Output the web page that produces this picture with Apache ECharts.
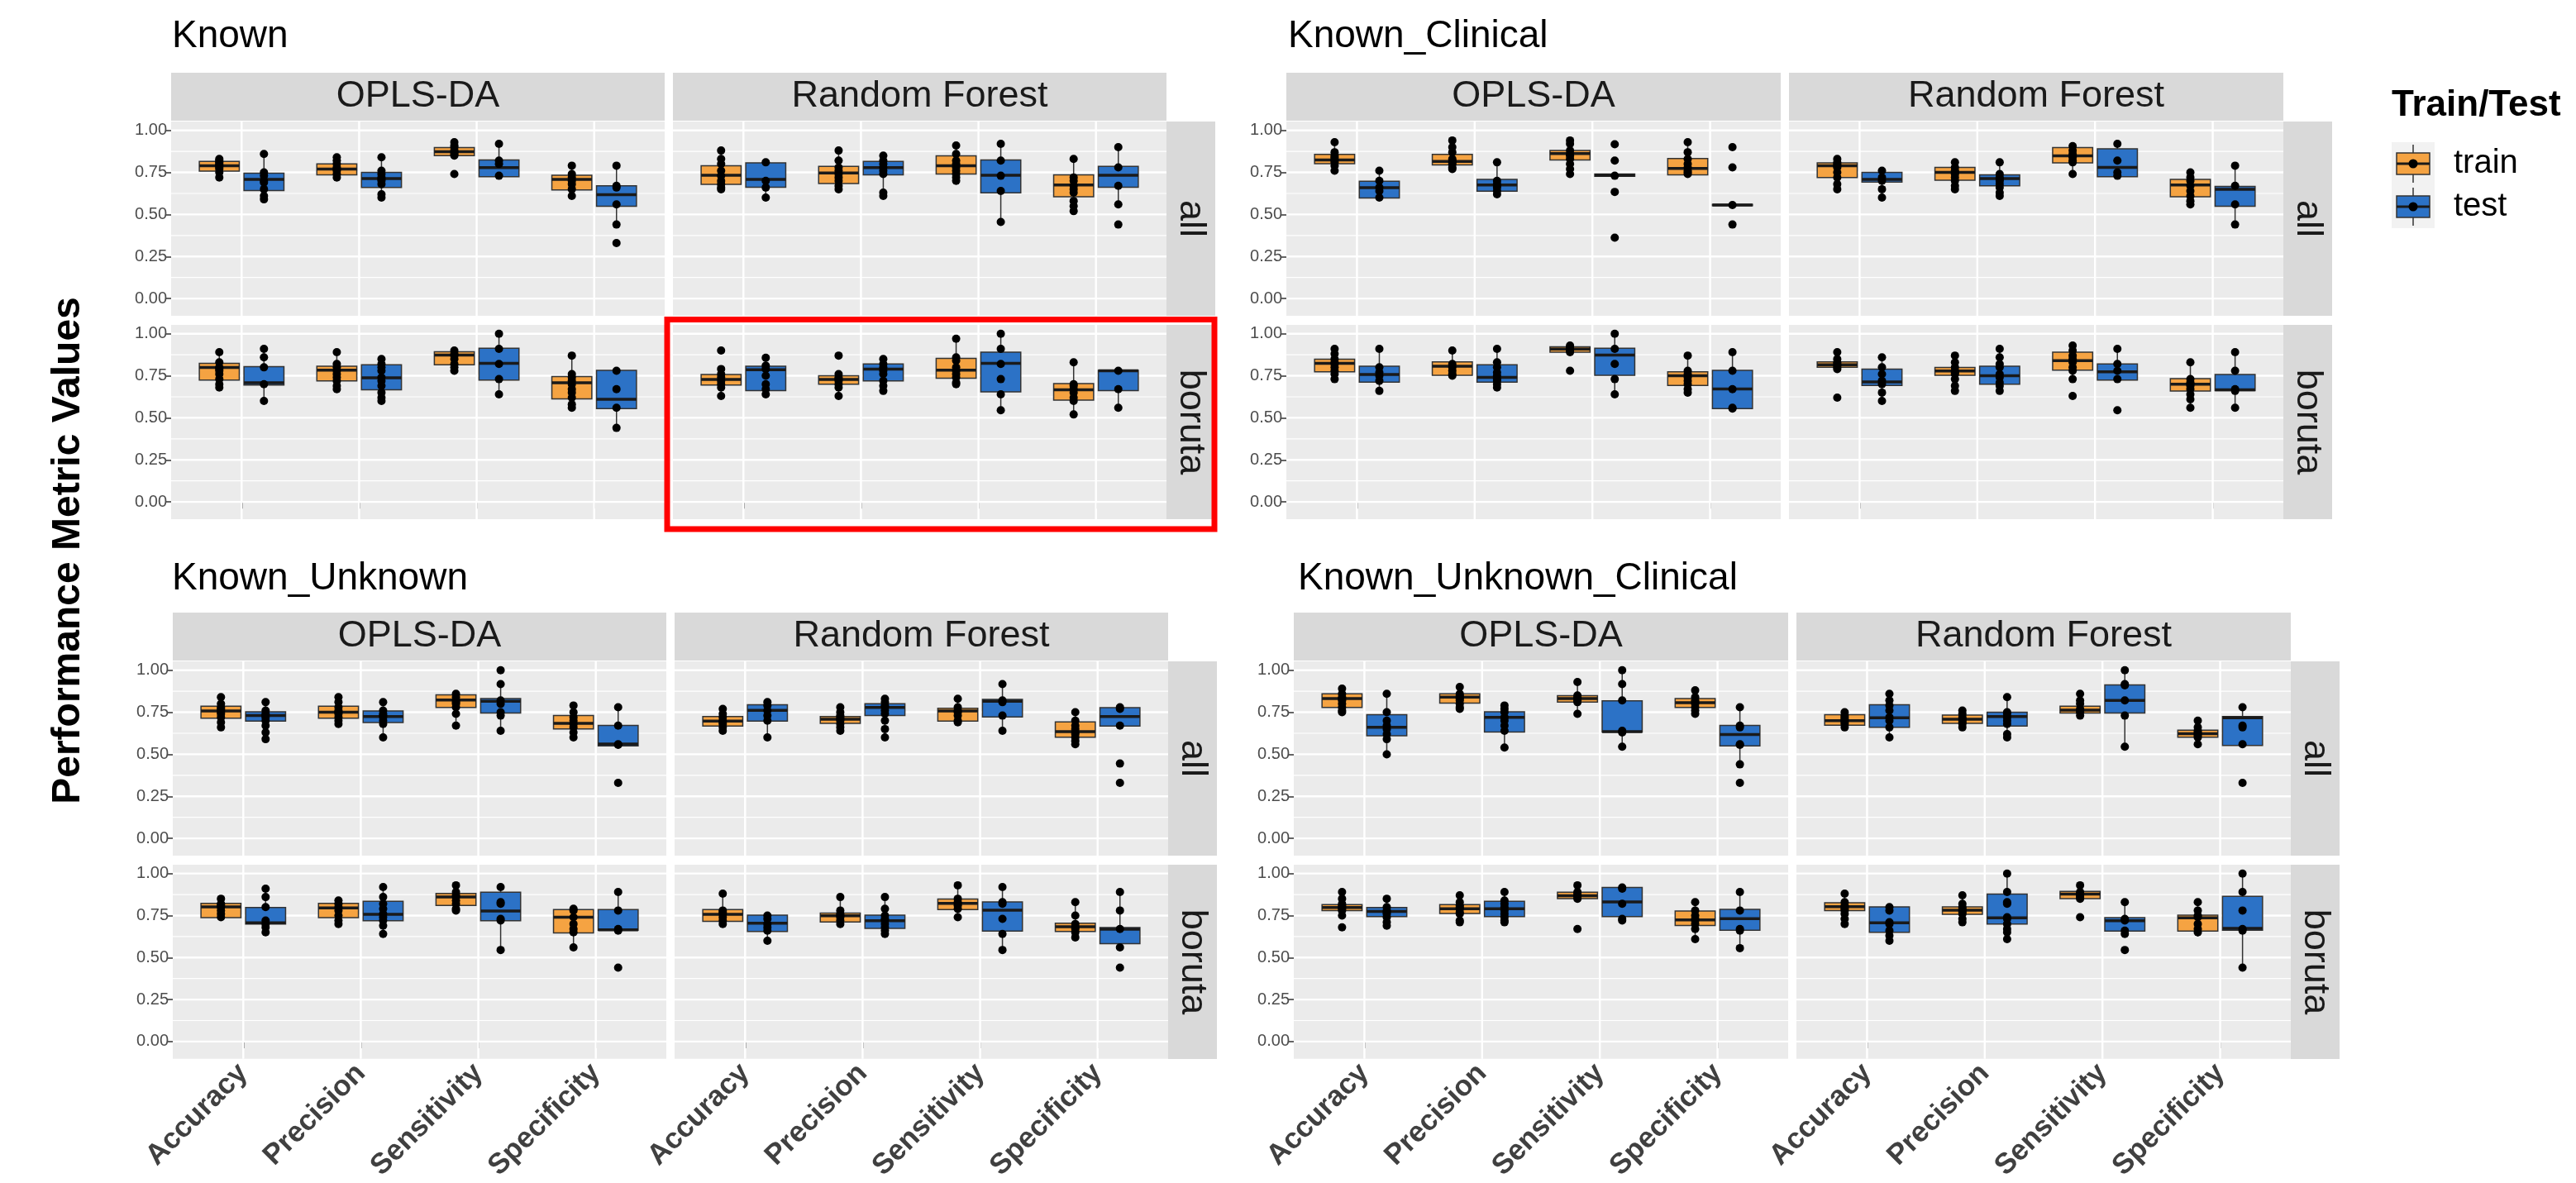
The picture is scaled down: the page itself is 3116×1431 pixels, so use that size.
<!DOCTYPE html>
<html>
<head>
<meta charset="utf-8">
<script src="https://cdn.jsdelivr.net/npm/echarts@6.0.0/dist/echarts.min.js"></script>
<style>
  html, body { margin: 0; padding: 0; background: #fff; }
  #chart { width: 3116px; height: 1431px; }
</style>
</head>
<body>
<div id="chart"></div>
<script>
const metrics = ['Accuracy', 'Precision', 'Sensitivity', 'Specificity']
const groups = ['train', 'test']
const models = ['OPLS-DA', 'Random Forest']
const featureSets = ['all', 'boruta']
const panelNames = ['Known', 'Known_Clinical', 'Known_Unknown', 'Known_Unknown_Clinical']
const yTicks = [0, 0.25, 0.5, 0.75, 1]
const yMinor = [0.125, 0.375, 0.625, 0.875]

// box stats: [lowWhisker, q1, median, q3, highWhisker]
// order: Acc train, Acc test, Prec train, Prec test, Sens train, Sens test, Spec train, Spec test
const knownOplsAllBox = [
  [0.71, 0.758, 0.79, 0.815, 0.84], [0.593, 0.642, 0.708, 0.745, 0.865],
  [0.713, 0.736, 0.77, 0.80, 0.84], [0.593, 0.66, 0.713, 0.75, 0.848],
  [0.848, 0.85, 0.873, 0.898, 0.935], [0.725, 0.725, 0.779, 0.824, 0.92],
  [0.593, 0.646, 0.708, 0.733, 0.796], [0.444, 0.549, 0.618, 0.67, 0.79]
]
const knownOplsAllPts = [
  [0.72, 0.75, 0.77, 0.78, 0.79, 0.80, 0.81, 0.82, 0.83], [0.86, 0.75, 0.73, 0.70, 0.69, 0.65, 0.61, 0.59],
  [0.72, 0.74, 0.76, 0.77, 0.78, 0.80, 0.82, 0.84], [0.84, 0.76, 0.74, 0.72, 0.71, 0.70, 0.68, 0.62, 0.60],
  [0.93, 0.91, 0.90, 0.88, 0.87, 0.86, 0.85, 0.74], [0.92, 0.82, 0.80, 0.73],
  [0.79, 0.74, 0.72, 0.70, 0.68, 0.65, 0.61], [0.79, 0.67, 0.66, 0.56, 0.44, 0.33]
]
const knownRfAllBox = [
  [0.642, 0.679, 0.733, 0.79, 0.88], [0.60, 0.662, 0.708, 0.807, 0.81],
  [0.642, 0.684, 0.746, 0.786, 0.88], [0.61, 0.736, 0.779, 0.815, 0.848],
  [0.692, 0.741, 0.79, 0.848, 0.906], [0.453, 0.629, 0.733, 0.824, 0.922],
  [0.51, 0.605, 0.675, 0.736, 0.84], [0.556, 0.662, 0.733, 0.786, 0.898]
]
const knownRfAllPts = [
  [0.88, 0.83, 0.80, 0.76, 0.73, 0.70, 0.68, 0.66, 0.65], [0.81, 0.70, 0.66, 0.60],
  [0.88, 0.82, 0.78, 0.76, 0.74, 0.72, 0.70, 0.67, 0.65], [0.85, 0.82, 0.80, 0.78, 0.76, 0.74, 0.63, 0.61],
  [0.91, 0.86, 0.82, 0.80, 0.78, 0.76, 0.74, 0.72, 0.70], [0.92, 0.82, 0.73, 0.64, 0.455],
  [0.83, 0.72, 0.70, 0.67, 0.65, 0.63, 0.58, 0.55, 0.52], [0.90, 0.78, 0.67, 0.56, 0.44]
]
const knownOplsBorutaBox = [
  [0.667, 0.725, 0.799, 0.824, 0.898], [0.60, 0.695, 0.708, 0.804, 0.906],
  [0.667, 0.72, 0.783, 0.807, 0.898], [0.60, 0.667, 0.738, 0.815, 0.857],
  [0.774, 0.815, 0.873, 0.893, 0.90], [0.634, 0.725, 0.824, 0.914, 1.0],
  [0.56, 0.613, 0.708, 0.745, 0.873], [0.445, 0.555, 0.61, 0.782, 0.782]
]
const knownOplsBorutaPts = [
  [0.89, 0.83, 0.80, 0.79, 0.78, 0.76, 0.73, 0.70, 0.68], [0.91, 0.86, 0.80, 0.70, 0.60],
  [0.89, 0.82, 0.80, 0.78, 0.76, 0.74, 0.72, 0.69, 0.67], [0.85, 0.82, 0.80, 0.78, 0.74, 0.72, 0.69, 0.65, 0.62, 0.60],
  [0.90, 0.88, 0.87, 0.85, 0.82, 0.80, 0.78], [1.0, 0.91, 0.82, 0.73, 0.64],
  [0.87, 0.76, 0.74, 0.72, 0.70, 0.67, 0.65, 0.62, 0.58, 0.56], [0.78, 0.67, 0.56, 0.44]
]
const knownRfBorutaBox = [
  [0.626, 0.695, 0.728, 0.758, 0.79], [0.643, 0.662, 0.786, 0.807, 0.857],
  [0.634, 0.70, 0.728, 0.75, 0.76], [0.659, 0.72, 0.79, 0.82, 0.857],
  [0.692, 0.736, 0.783, 0.853, 0.97], [0.544, 0.654, 0.824, 0.89, 1.0],
  [0.519, 0.605, 0.667, 0.703, 0.83], [0.556, 0.662, 0.78, 0.782, 0.782]
]
const knownRfBorutaPts = [
  [0.90, 0.79, 0.76, 0.74, 0.72, 0.70, 0.68, 0.63], [0.857, 0.81, 0.79, 0.75, 0.70, 0.67, 0.64],
  [0.87, 0.76, 0.74, 0.73, 0.72, 0.70, 0.68, 0.63], [0.85, 0.82, 0.80, 0.78, 0.76, 0.72, 0.69, 0.66],
  [0.97, 0.86, 0.84, 0.80, 0.78, 0.76, 0.74, 0.71, 0.70], [1.0, 0.91, 0.82, 0.73, 0.64, 0.545],
  [0.83, 0.70, 0.69, 0.67, 0.65, 0.62, 0.60, 0.52], [0.78, 0.67, 0.56]
]
const clinOplsAllBox = [
  [0.75, 0.802, 0.824, 0.857, 0.93], [0.593, 0.598, 0.659, 0.697, 0.763],
  [0.766, 0.794, 0.815, 0.857, 0.94], [0.60, 0.639, 0.675, 0.708, 0.807],
  [0.736, 0.824, 0.862, 0.881, 0.94], [0.727, 0.727, 0.733, 0.74, 0.74],
  [0.736, 0.736, 0.774, 0.832, 0.93], [0.552, 0.552, 0.556, 0.56, 0.56]
]
const clinOplsAllPts = [
  [0.93, 0.87, 0.85, 0.84, 0.83, 0.82, 0.81, 0.79, 0.76], [0.76, 0.70, 0.66, 0.64, 0.60],
  [0.94, 0.90, 0.87, 0.83, 0.82, 0.81, 0.80, 0.78, 0.77], [0.81, 0.70, 0.68, 0.67, 0.66, 0.64, 0.62],
  [0.94, 0.92, 0.88, 0.86, 0.85, 0.83, 0.80, 0.77, 0.74], [0.917, 0.82, 0.73, 0.634, 0.362],
  [0.93, 0.87, 0.83, 0.80, 0.78, 0.76, 0.75, 0.74], [0.90, 0.78, 0.556, 0.44]
]
const clinRfAllBox = [
  [0.65, 0.72, 0.79, 0.807, 0.84], [0.65, 0.692, 0.708, 0.75, 0.758],
  [0.65, 0.703, 0.75, 0.78, 0.815], [0.60, 0.67, 0.713, 0.736, 0.815],
  [0.733, 0.807, 0.848, 0.898, 0.906], [0.725, 0.725, 0.78, 0.89, 0.922],
  [0.56, 0.605, 0.675, 0.708, 0.75], [0.445, 0.549, 0.65, 0.667, 0.79]
]
const clinRfAllPts = [
  [0.83, 0.81, 0.80, 0.79, 0.78, 0.75, 0.72, 0.68, 0.65], [0.76, 0.72, 0.70, 0.65, 0.60],
  [0.81, 0.78, 0.76, 0.75, 0.74, 0.72, 0.70, 0.67, 0.65], [0.81, 0.74, 0.72, 0.71, 0.70, 0.68, 0.66, 0.63, 0.61],
  [0.906, 0.88, 0.86, 0.84, 0.82, 0.81, 0.74], [0.92, 0.82, 0.75, 0.73],
  [0.75, 0.72, 0.70, 0.67, 0.64, 0.61, 0.58, 0.56], [0.79, 0.67, 0.56, 0.44]
]
const clinOplsBorutaBox = [
  [0.725, 0.774, 0.824, 0.848, 0.914], [0.65, 0.712, 0.758, 0.807, 0.914],
  [0.753, 0.753, 0.807, 0.832, 0.906], [0.675, 0.712, 0.741, 0.815, 0.922],
  [0.89, 0.89, 0.909, 0.922, 0.94], [0.634, 0.753, 0.873, 0.914, 1.0],
  [0.642, 0.692, 0.75, 0.774, 0.89], [0.555, 0.555, 0.672, 0.782, 0.898]
]
const clinOplsBorutaPts = [
  [0.91, 0.88, 0.85, 0.83, 0.82, 0.80, 0.78, 0.76, 0.73], [0.91, 0.80, 0.77, 0.75, 0.72, 0.66],
  [0.90, 0.82, 0.80, 0.78, 0.76, 0.75], [0.91, 0.83, 0.80, 0.77, 0.75, 0.73, 0.72, 0.70, 0.68],
  [0.93, 0.92, 0.91, 0.90, 0.89, 0.78], [1.0, 0.91, 0.82, 0.73, 0.64],
  [0.87, 0.78, 0.76, 0.74, 0.72, 0.70, 0.67, 0.65], [0.89, 0.78, 0.67, 0.56, 0.555]
]
const clinRfBorutaBox = [
  [0.774, 0.80, 0.815, 0.832, 0.89], [0.60, 0.692, 0.713, 0.79, 0.865],
  [0.659, 0.753, 0.778, 0.799, 0.873], [0.65, 0.70, 0.75, 0.807, 0.914],
  [0.725, 0.783, 0.84, 0.89, 0.94], [0.725, 0.725, 0.774, 0.82, 0.914],
  [0.56, 0.659, 0.70, 0.733, 0.84], [0.56, 0.662, 0.667, 0.758, 0.898]
]
const clinRfBorutaPts = [
  [0.89, 0.85, 0.83, 0.82, 0.81, 0.80, 0.79, 0.62], [0.86, 0.80, 0.76, 0.72, 0.70, 0.65, 0.60],
  [0.87, 0.83, 0.80, 0.78, 0.77, 0.76, 0.73, 0.69, 0.66], [0.91, 0.86, 0.82, 0.80, 0.76, 0.74, 0.71, 0.69, 0.66],
  [0.93, 0.90, 0.87, 0.85, 0.83, 0.80, 0.78, 0.73, 0.63], [0.91, 0.82, 0.78, 0.73, 0.545],
  [0.83, 0.73, 0.71, 0.70, 0.69, 0.67, 0.64, 0.61, 0.56], [0.89, 0.78, 0.67, 0.66, 0.56]
]
const unkOplsAllBox = [
  [0.66, 0.714, 0.758, 0.786, 0.84], [0.594, 0.697, 0.73, 0.753, 0.807],
  [0.676, 0.714, 0.75, 0.786, 0.84], [0.594, 0.689, 0.725, 0.758, 0.815],
  [0.668, 0.779, 0.823, 0.853, 0.864], [0.635, 0.745, 0.815, 0.831, 0.917],
  [0.60, 0.651, 0.684, 0.73, 0.79], [0.55, 0.55, 0.561, 0.672, 0.78]
]
const unkOplsAllPts = [
  [0.84, 0.80, 0.78, 0.77, 0.76, 0.75, 0.74, 0.72, 0.69, 0.66], [0.81, 0.76, 0.74, 0.73, 0.72, 0.70, 0.67, 0.63, 0.59],
  [0.84, 0.81, 0.78, 0.76, 0.75, 0.74, 0.72, 0.70, 0.68], [0.81, 0.76, 0.74, 0.73, 0.72, 0.70, 0.68, 0.60],
  [0.86, 0.84, 0.82, 0.81, 0.80, 0.78, 0.74, 0.67], [1.0, 0.917, 0.82, 0.80, 0.75, 0.73, 0.64],
  [0.79, 0.75, 0.72, 0.70, 0.68, 0.66, 0.63, 0.60], [0.78, 0.67, 0.56, 0.556, 0.33]
]
const unkRfAllBox = [
  [0.627, 0.668, 0.697, 0.725, 0.77], [0.594, 0.697, 0.761, 0.795, 0.81],
  [0.635, 0.684, 0.709, 0.725, 0.78], [0.594, 0.73, 0.779, 0.80, 0.831],
  [0.68, 0.697, 0.758, 0.774, 0.831], [0.627, 0.722, 0.815, 0.826, 0.92],
  [0.556, 0.602, 0.635, 0.692, 0.758], [0.668, 0.668, 0.725, 0.777, 0.78]
]
const unkRfAllPts = [
  [0.77, 0.74, 0.72, 0.70, 0.69, 0.68, 0.66, 0.64], [0.81, 0.79, 0.76, 0.73, 0.70, 0.60],
  [0.78, 0.75, 0.73, 0.72, 0.71, 0.70, 0.68, 0.66, 0.64], [0.83, 0.81, 0.79, 0.78, 0.76, 0.74, 0.70, 0.65, 0.60],
  [0.83, 0.78, 0.76, 0.75, 0.73, 0.70, 0.69], [0.917, 0.82, 0.81, 0.73, 0.64],
  [0.75, 0.70, 0.67, 0.65, 0.63, 0.62, 0.60, 0.58, 0.56], [0.78, 0.77, 0.67, 0.445, 0.33]
]
const unkOplsBorutaBox = [
  [0.732, 0.737, 0.802, 0.823, 0.851], [0.641, 0.699, 0.707, 0.798, 0.914],
  [0.691, 0.737, 0.795, 0.823, 0.848], [0.633, 0.719, 0.757, 0.835, 0.93],
  [0.774, 0.81, 0.86, 0.881, 0.939], [0.542, 0.719, 0.777, 0.889, 0.93],
  [0.559, 0.646, 0.74, 0.785, 0.798], [0.663, 0.663, 0.665, 0.785, 0.894]
]
const unkOplsBorutaPts = [
  [0.85, 0.82, 0.81, 0.80, 0.78, 0.76, 0.74], [0.91, 0.86, 0.80, 0.72, 0.70, 0.68, 0.65],
  [0.84, 0.82, 0.80, 0.78, 0.75, 0.72, 0.70], [0.92, 0.86, 0.82, 0.79, 0.76, 0.74, 0.72, 0.69, 0.64],
  [0.93, 0.89, 0.87, 0.86, 0.84, 0.82, 0.79, 0.78], [0.92, 0.83, 0.82, 0.73, 0.72, 0.545],
  [0.79, 0.78, 0.74, 0.70, 0.67, 0.65, 0.56], [0.89, 0.78, 0.67, 0.66, 0.44]
]
const unkRfBorutaBox = [
  [0.691, 0.716, 0.757, 0.785, 0.884], [0.60, 0.655, 0.704, 0.752, 0.757],
  [0.699, 0.712, 0.749, 0.765, 0.864], [0.641, 0.674, 0.719, 0.752, 0.864],
  [0.74, 0.785, 0.823, 0.848, 0.939], [0.542, 0.658, 0.782, 0.831, 0.922],
  [0.608, 0.655, 0.683, 0.704, 0.831], [0.556, 0.583, 0.669, 0.678, 0.894]
]
const unkRfBorutaPts = [
  [0.88, 0.78, 0.77, 0.76, 0.74, 0.72, 0.70], [0.75, 0.73, 0.70, 0.68, 0.66, 0.60],
  [0.86, 0.78, 0.76, 0.75, 0.74, 0.72, 0.70], [0.86, 0.79, 0.75, 0.73, 0.72, 0.70, 0.68, 0.66, 0.64],
  [0.93, 0.85, 0.83, 0.82, 0.81, 0.79, 0.74], [0.92, 0.83, 0.82, 0.73, 0.64, 0.545],
  [0.83, 0.75, 0.70, 0.68, 0.67, 0.65, 0.62], [0.89, 0.78, 0.67, 0.56, 0.44]
]
const unkClinOplsAllBox = [
  [0.741, 0.779, 0.831, 0.859, 0.897], [0.496, 0.61, 0.66, 0.736, 0.864],
  [0.766, 0.804, 0.84, 0.859, 0.905], [0.537, 0.632, 0.72, 0.753, 0.799],
  [0.741, 0.81, 0.831, 0.848, 0.946], [0.537, 0.632, 0.635, 0.818, 1.0],
  [0.725, 0.779, 0.807, 0.831, 0.889], [0.44, 0.55, 0.618, 0.672, 0.78]
]
const unkClinOplsAllPts = [
  [0.89, 0.86, 0.84, 0.83, 0.82, 0.80, 0.78, 0.76, 0.75], [0.86, 0.75, 0.70, 0.67, 0.65, 0.62, 0.59, 0.50],
  [0.90, 0.86, 0.85, 0.84, 0.83, 0.82, 0.80, 0.78, 0.77], [0.79, 0.77, 0.75, 0.72, 0.70, 0.67, 0.64, 0.54],
  [0.93, 0.85, 0.84, 0.83, 0.82, 0.81, 0.74], [1.0, 0.917, 0.82, 0.64, 0.63, 0.545],
  [0.88, 0.84, 0.82, 0.81, 0.80, 0.78, 0.76, 0.74], [0.78, 0.67, 0.66, 0.56, 0.556, 0.44, 0.33]
]
const unkClinRfAllBox = [
  [0.651, 0.673, 0.70, 0.736, 0.758], [0.594, 0.66, 0.717, 0.795, 0.864],
  [0.66, 0.684, 0.709, 0.733, 0.766], [0.594, 0.668, 0.725, 0.75, 0.848],
  [0.73, 0.745, 0.763, 0.786, 0.864], [0.545, 0.745, 0.82, 0.913, 1.0],
  [0.561, 0.602, 0.622, 0.643, 0.712], [0.553, 0.553, 0.717, 0.725, 0.777]
]
const unkClinRfAllPts = [
  [0.75, 0.73, 0.72, 0.71, 0.70, 0.69, 0.68, 0.66], [0.86, 0.82, 0.79, 0.76, 0.72, 0.70, 0.66, 0.60],
  [0.76, 0.74, 0.72, 0.71, 0.70, 0.69, 0.68, 0.66], [0.84, 0.75, 0.74, 0.72, 0.70, 0.68, 0.62, 0.60],
  [0.86, 0.82, 0.80, 0.77, 0.76, 0.75, 0.73], [1.0, 0.917, 0.91, 0.82, 0.73, 0.545],
  [0.70, 0.66, 0.64, 0.63, 0.62, 0.61, 0.60, 0.56], [0.78, 0.67, 0.66, 0.56, 0.33]
]
const unkClinOplsBorutaBox = [
  [0.749, 0.779, 0.798, 0.815, 0.894], [0.691, 0.744, 0.774, 0.798, 0.856],
  [0.707, 0.762, 0.79, 0.815, 0.881], [0.707, 0.744, 0.79, 0.835, 0.897],
  [0.84, 0.851, 0.868, 0.889, 0.939], [0.724, 0.744, 0.831, 0.917, 0.917],
  [0.60, 0.691, 0.724, 0.777, 0.831], [0.542, 0.663, 0.732, 0.787, 0.894]
]
const unkClinOplsBorutaPts = [
  [0.89, 0.85, 0.82, 0.81, 0.80, 0.79, 0.78, 0.75, 0.68], [0.85, 0.80, 0.78, 0.77, 0.76, 0.74, 0.71, 0.69],
  [0.87, 0.83, 0.81, 0.80, 0.79, 0.77, 0.76, 0.72, 0.71], [0.89, 0.84, 0.82, 0.80, 0.78, 0.76, 0.74, 0.72, 0.71],
  [0.93, 0.89, 0.88, 0.87, 0.86, 0.85, 0.67], [0.917, 0.91, 0.82, 0.73, 0.72],
  [0.83, 0.78, 0.75, 0.73, 0.72, 0.70, 0.67, 0.61], [0.89, 0.78, 0.67, 0.66, 0.556]
]
const unkClinRfBorutaBox = [
  [0.691, 0.779, 0.803, 0.826, 0.884], [0.592, 0.65, 0.707, 0.802, 0.802],
  [0.699, 0.757, 0.782, 0.802, 0.881], [0.60, 0.699, 0.736, 0.878, 1.0],
  [0.851, 0.851, 0.878, 0.894, 0.939], [0.658, 0.658, 0.719, 0.737, 0.831],
  [0.625, 0.658, 0.736, 0.752, 0.831], [0.435, 0.663, 0.674, 0.864, 1.0]
]
const unkClinRfBorutaPts = [
  [0.88, 0.83, 0.81, 0.80, 0.79, 0.78, 0.76, 0.73, 0.70], [0.80, 0.78, 0.71, 0.70, 0.66, 0.63, 0.60],
  [0.87, 0.82, 0.80, 0.79, 0.78, 0.77, 0.76, 0.73, 0.71], [1.0, 0.89, 0.83, 0.82, 0.74, 0.73, 0.70, 0.67, 0.65, 0.61],
  [0.93, 0.89, 0.88, 0.87, 0.86, 0.85, 0.74], [0.83, 0.73, 0.72, 0.66, 0.64, 0.545],
  [0.83, 0.78, 0.75, 0.74, 0.70, 0.67, 0.65], [1.0, 0.89, 0.78, 0.67, 0.66, 0.44]
]

const facets = [
  { panel: 0, model: 0, row: 0, box: knownOplsAllBox, pts: knownOplsAllPts },
  { panel: 0, model: 1, row: 0, box: knownRfAllBox, pts: knownRfAllPts },
  { panel: 0, model: 0, row: 1, box: knownOplsBorutaBox, pts: knownOplsBorutaPts },
  { panel: 0, model: 1, row: 1, box: knownRfBorutaBox, pts: knownRfBorutaPts },
  { panel: 1, model: 0, row: 0, box: clinOplsAllBox, pts: clinOplsAllPts },
  { panel: 1, model: 1, row: 0, box: clinRfAllBox, pts: clinRfAllPts },
  { panel: 1, model: 0, row: 1, box: clinOplsBorutaBox, pts: clinOplsBorutaPts },
  { panel: 1, model: 1, row: 1, box: clinRfBorutaBox, pts: clinRfBorutaPts },
  { panel: 2, model: 0, row: 0, box: unkOplsAllBox, pts: unkOplsAllPts },
  { panel: 2, model: 1, row: 0, box: unkRfAllBox, pts: unkRfAllPts },
  { panel: 2, model: 0, row: 1, box: unkOplsBorutaBox, pts: unkOplsBorutaPts },
  { panel: 2, model: 1, row: 1, box: unkRfBorutaBox, pts: unkRfBorutaPts },
  { panel: 3, model: 0, row: 0, box: unkClinOplsAllBox, pts: unkClinOplsAllPts },
  { panel: 3, model: 1, row: 0, box: unkClinRfAllBox, pts: unkClinRfAllPts },
  { panel: 3, model: 0, row: 1, box: unkClinOplsBorutaBox, pts: unkClinOplsBorutaPts },
  { panel: 3, model: 1, row: 1, box: unkClinRfBorutaBox, pts: unkClinRfBorutaPts }
]

// layout of the four panels (pixels)
const panelLayout = [
  { left: 207, top: 147, w: 597, titleX: 208, titleY: 44 },
  { left: 1556, top: 147, w: 598, titleX: 1558, titleY: 44 },
  { left: 209, top: 800, w: 597, titleX: 208, titleY: 700 },
  { left: 1565, top: 800, w: 598, titleX: 1570, titleY: 700 }
]
const colGap = 10, rowH = 235, rowGap = 11, stripW = 59, stripH = 58
const Y_MIN = -0.1025, Y_MAX = 1.0525
const dodge = 0.19, boxWidth = 0.34
const colors = { train: '#F5A342', test: '#2C72C6' }
const FONT = '"Liberation Sans", Arial, sans-serif'

function renderBox(params, api) {
  const x = api.value(0)
  const w = api.size([boxWidth, 0])[0]
  const lo = api.coord([x, api.value(1)])
  const q1 = api.coord([x, api.value(2)])
  const md = api.coord([x, api.value(3)])
  const q3 = api.coord([x, api.value(4)])
  const hi = api.coord([x, api.value(5)])
  const fill = api.value(6) === 0 ? colors.train : colors.test
  const cx = lo[0]
  const line = { stroke: '#333', lineWidth: 1.5 }
  return {
    type: 'group',
    children: [
      { type: 'line', shape: { x1: cx, y1: hi[1], x2: cx, y2: q3[1] }, style: line },
      { type: 'line', shape: { x1: cx, y1: q1[1], x2: cx, y2: lo[1] }, style: line },
      { type: 'rect', shape: { x: cx - w / 2, y: q3[1], width: w, height: Math.max(q1[1] - q3[1], 1) },
        style: { fill: fill, stroke: '#333', lineWidth: 1.5 } },
      { type: 'line', shape: { x1: cx - w / 2, y1: md[1], x2: cx + w / 2, y2: md[1] },
        style: { stroke: '#1a1a1a', lineWidth: 3.5 } }
    ]
  }
}

function renderGridLine(params, api) {
  const dir = api.value(0), v = api.value(1), major = api.value(2)
  const a = dir === 0 ? api.coord([0.4, v]) : api.coord([v, Y_MIN])
  const b = dir === 0 ? api.coord([4.6, v]) : api.coord([v, Y_MAX])
  return {
    type: 'line',
    shape: { x1: a[0], y1: a[1], x2: b[0], y2: b[1] },
    style: { stroke: '#fff', lineWidth: major ? 2.4 : 1.2 }
  }
}

const gridLineData = []
yTicks.forEach(v => gridLineData.push([0, v, 1]))
yMinor.forEach(v => gridLineData.push([0, v, 0]))
metrics.forEach((m, i) => gridLineData.push([1, i + 1, 1]))

const grids = [], xAxes = [], yAxes = [], series = [], graphics = []

facets.forEach((f, i) => {
  const L = panelLayout[f.panel]
  const left = L.left + f.model * (L.w + colGap)
  const top = L.top + f.row * (rowH + rowGap)
  grids.push({ left: left, top: top, width: L.w, height: rowH, show: true,
    backgroundColor: '#EBEBEB', borderWidth: 0 })

  const bottomRow = f.row === 1
  xAxes.push({
    gridIndex: i, type: 'value', min: 0.4, max: 4.6,
    axisLine: { show: false }, splitLine: { show: false },
    axisTick: { show: bottomRow, customValues: [1, 2, 3, 4], length: 8, lineStyle: { color: '#333', width: 1.5 } },
    axisLabel: {
      show: bottomRow && f.panel >= 2, customValues: [1, 2, 3, 4],
      formatter: v => metrics[Math.round(v) - 1], rotate: 45, margin: 12,
      fontSize: 35, fontWeight: 'bold', color: '#404040', fontFamily: FONT
    }
  })
  yAxes.push({
    gridIndex: i, type: 'value', min: Y_MIN, max: Y_MAX,
    axisLine: { show: false }, splitLine: { show: false },
    axisTick: { show: f.model === 0, customValues: yTicks, length: 7, lineStyle: { color: '#333', width: 1.5 } },
    axisLabel: {
      show: f.model === 0, customValues: yTicks, formatter: v => v.toFixed(2),
      fontSize: 20, color: '#4d4d4d', margin: 5, fontFamily: FONT
    }
  })

  series.push({
    type: 'custom', xAxisIndex: i, yAxisIndex: i, z: 1, silent: true,
    renderItem: renderGridLine, data: gridLineData
  })

  const boxData = f.box.map((b, k) => {
    const g = k % 2
    const x = Math.floor(k / 2) + 1 + (g === 0 ? -dodge : dodge)
    return [x, b[0], b[1], b[2], b[3], b[4], g]
  })
  series.push({
    type: 'custom', name: 'box', xAxisIndex: i, yAxisIndex: i, z: 2,
    renderItem: renderBox, encode: { x: 0, y: [1, 2, 3, 4, 5] }, data: boxData
  })

  const ptData = []
  f.pts.forEach((list, k) => {
    const g = k % 2
    const x = Math.floor(k / 2) + 1 + (g === 0 ? -dodge : dodge)
    list.forEach(v => ptData.push([x, v]))
  })
  series.push({
    type: 'scatter', xAxisIndex: i, yAxisIndex: i, z: 3, symbolSize: 10,
    itemStyle: { color: '#000', opacity: 1 }, data: ptData
  })
})

// panel titles and strips
panelLayout.forEach((L, p) => {
  graphics.push({ type: 'text', x: L.titleX, y: L.titleY,
    style: { text: panelNames[p], font: '46px ' + FONT, fill: '#000',
      textAlign: 'left', align: 'left', textVerticalAlign: 'middle', verticalAlign: 'middle' } })
  models.forEach((m, c) => {
    const x0 = L.left + c * (L.w + colGap)
    graphics.push({ type: 'rect', shape: { x: x0, y: L.top - stripH - 1, width: L.w, height: stripH },
      style: { fill: '#D9D9D9' } })
    graphics.push({ type: 'text', x: x0 + L.w / 2, y: L.top - stripH / 2 - 1,
      style: { text: m, font: '45px ' + FONT, fill: '#1a1a1a',
        textAlign: 'center', align: 'center', textVerticalAlign: 'middle', verticalAlign: 'middle' } })
  })
  const sx = L.left + 2 * L.w + colGap
  featureSets.forEach((fs, r) => {
    const y0 = L.top + r * (rowH + rowGap)
    graphics.push({ type: 'rect', shape: { x: sx, y: y0, width: stripW, height: rowH },
      style: { fill: '#D9D9D9' } })
    graphics.push({ type: 'text', x: sx + stripW / 2, y: y0 + rowH / 2, rotation: -Math.PI / 2,
      style: { text: fs, font: '45px ' + FONT, fill: '#1a1a1a',
        textAlign: 'center', align: 'center', textVerticalAlign: 'middle', verticalAlign: 'middle' } })
  })
})

// y axis title
graphics.push({ type: 'text', x: 83, y: 666, rotation: Math.PI / 2,
  style: { text: 'Performance Metric Values', font: 'bold 48px ' + FONT, fill: '#000',
    textAlign: 'center', align: 'center', textVerticalAlign: 'middle', verticalAlign: 'middle' } })

// legend
graphics.push({ type: 'text', x: 2893, y: 128,
  style: { text: 'Train/Test', font: 'bold 44px ' + FONT, fill: '#000',
    textAlign: 'left', align: 'left', textVerticalAlign: 'middle', verticalAlign: 'middle' } })
groups.forEach((g, k) => {
  const ky = 172 + k * 52
  const cx = 2919, cy = ky + 26
  graphics.push({ type: 'rect', shape: { x: 2893, y: ky, width: 52, height: 52 }, style: { fill: '#F2F2F2' } })
  graphics.push({ type: 'line', shape: { x1: cx, y1: ky + 3, x2: cx, y2: ky + 49 }, style: { stroke: '#333', lineWidth: 1.5 } })
  graphics.push({ type: 'rect', shape: { x: 2899, y: cy - 13, width: 40, height: 26 },
    style: { fill: colors[g], stroke: '#333', lineWidth: 1.5 } })
  graphics.push({ type: 'line', shape: { x1: 2899, y1: cy, x2: 2939, y2: cy }, style: { stroke: '#1a1a1a', lineWidth: 3 } })
  graphics.push({ type: 'circle', shape: { cx: cx, cy: cy, r: 5.5 }, style: { fill: '#000' } })
  graphics.push({ type: 'text', x: 2968, y: cy,
    style: { text: g, font: '40px ' + FONT, fill: '#000',
      textAlign: 'left', align: 'left', textVerticalAlign: 'middle', verticalAlign: 'middle' } })
})

// red highlight box around Known / Random Forest / boruta
graphics.push({ type: 'rect', z: 100, shape: { x: 807, y: 386.5, width: 662, height: 253.5 },
  style: { fill: 'rgba(0,0,0,0)', stroke: '#FF0000', lineWidth: 7 } })

const chart = echarts.init(document.getElementById('chart'), null, { renderer: 'canvas' })
chart.setOption({
  animation: false,
  backgroundColor: '#fff',
  grid: grids,
  xAxis: xAxes,
  yAxis: yAxes,
  series: series,
  graphic: { elements: graphics }
})
</script>
</body>
</html>
